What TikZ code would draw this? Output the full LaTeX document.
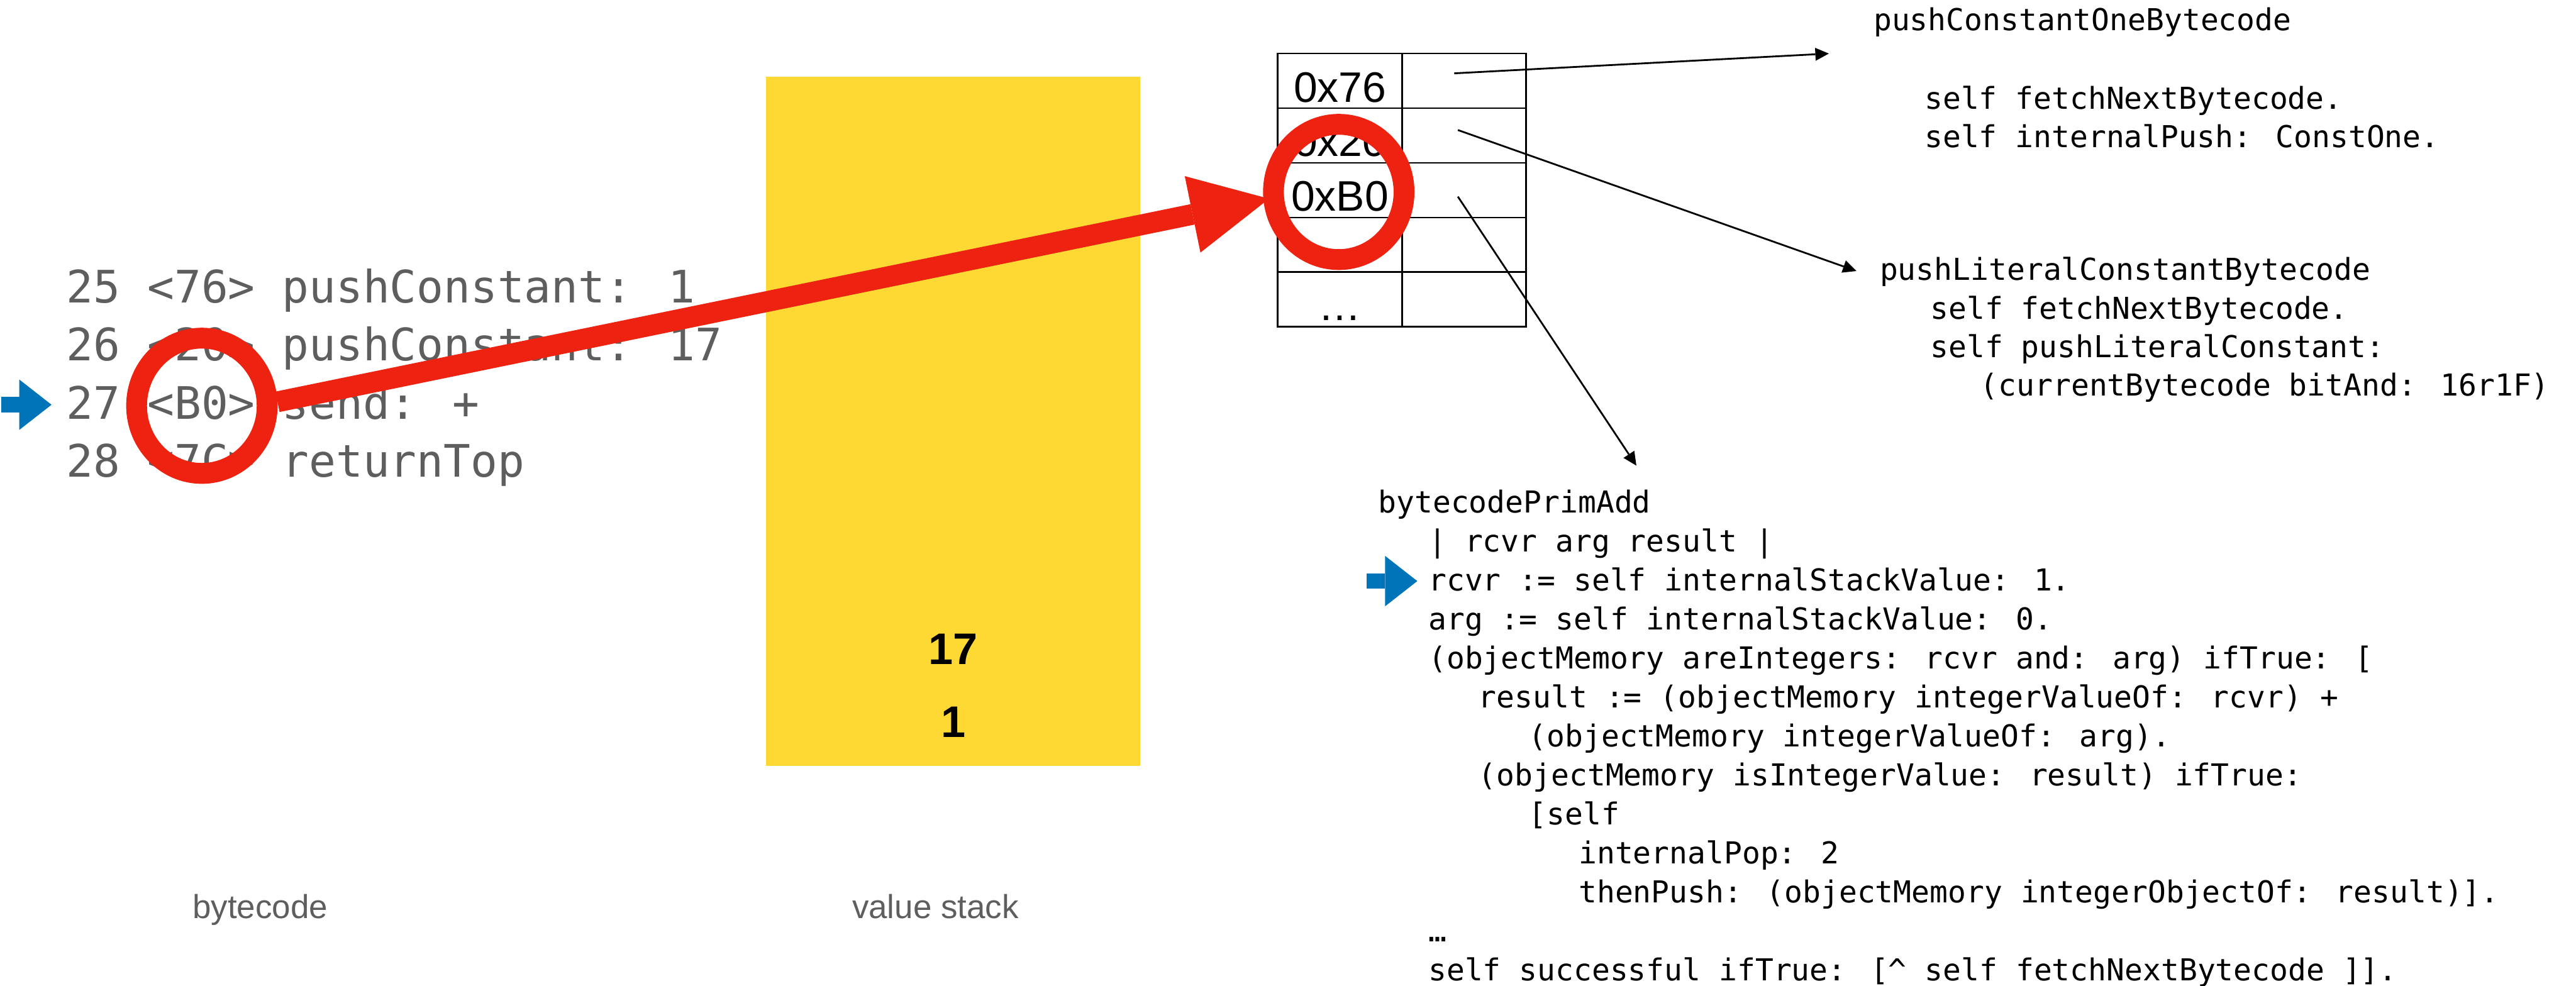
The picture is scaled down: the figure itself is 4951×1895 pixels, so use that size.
\documentclass[tikz,border=0pt]{standalone}
\usepackage{fontspec}
\setmainfont{Liberation Sans}
\newfontfamily\bcmono{DejaVu Sans Mono}
\newfontfamily\srcmono{DejaVu Sans Mono}
\usetikzlibrary{arrows.meta,shapes.geometric}

\definecolor{hotred}{RGB}{237,34,16}
\definecolor{stackyellow}{RGB}{254,217,51}
\definecolor{pcblue}{RGB}{0,116,185}
\definecolor{softgray}{RGB}{94,94,94}

\begin{document}
\begin{tikzpicture}[x=0.1pt,y=-0.1pt,
  every node/.style={inner sep=0pt,outer sep=0pt},
  bcline/.style={font=\bcmono\fontsize{8.6pt}{11pt}\selectfont,text=softgray,anchor=base west},
  srcline/.style={font=\srcmono\fontsize{5.8pt}{7.5pt}\selectfont,anchor=base west},
  caption/.style={font=\fontsize{6.4pt}{7.5pt}\selectfont,text=softgray,anchor=base},
  stackval/.style={font=\bfseries\fontsize{8.5pt}{10pt}\selectfont,anchor=base},
  cell/.style={draw,line width=0.28pt,minimum height=10.5pt,text height=8.1pt,text depth=0pt,
               font=\fontsize{8.2pt}{9pt}\selectfont},
  ring/.style={ellipse,draw=hotred,line width=4pt,minimum width=25.1pt,minimum height=26pt,
               inner sep=0pt,outer sep=2pt},
  pcmark/.style={draw=pcblue,line width=3pt,-{Triangle[length=6.2pt,width=9.7pt,line width=0pt]}},
  handler/.style={draw=black,line width=0.34pt,-{Triangle[length=2.6pt,width=2.5pt,line width=0pt]}},
  jump/.style={draw=hotred,line width=4pt,-{Triangle[length=15pt,width=15pt,line width=0pt]}}
]
\useasboundingbox (0,0) rectangle (4951,1895);

% value stack
\node[fill=stackyellow,minimum width=72pt,minimum height=132.5pt] (stack) at (1832,809.5) {};
\node[stackval] (top) at (1832,1277) {17};
\node[stackval] (bottom) at (1832,1417) {1};

% bytecode listing
\foreach \txt [count=\i from 0] in {{25 <76> pushConstant: 1},{26 <20> pushConstant: 17},
                                    {27 <B0> send: +},{28 <7C> returnTop}}
  \node[bcline] (bc\i) at (128,{582+\i*111.7}) {\txt};

% captions
\node[caption] (bclabel) at (500,1765) {bytecode};
\node[caption] (stacklabel) at (1798,1765) {value stack};

% dispatch table
\foreach \t [count=\i] in {0x76,0x20,0xB0,{},…} {
  \node[cell,minimum width=23.95pt] (k\i) at (2575.25,{155.5+(\i-1)*105}) {\t};
  \node[cell,minimum width=23.8pt] (h\i) at (2814,{155.5+(\i-1)*105}) {};
}

% handler sources
\node[srcline] (pc0) at (3601,58.6) {pushConstantOneBytecode};
\node[srcline] (pc1) at (3699,209.5) {self fetchNextBytecode.};
\node[srcline] (pc2) at (3699,284) {self internalPush: ConstOne.};

\node[srcline] (pl0) at (3613,538.5) {pushLiteralConstantBytecode};
\node[srcline] (pl1) at (3710,613) {self fetchNextBytecode.};
\node[srcline] (pl2) at (3710,687.7) {self pushLiteralConstant:};
\node[srcline] (pl3) at (3806,760.6) {(currentBytecode bitAnd: 16r1F)};

\foreach \ind/\txt [count=\i from 0] in {
    0/{bytecodePrimAdd},
    1/{| rcvr arg result |},
    1/{rcvr := self internalStackValue: 1.},
    1/{arg := self internalStackValue: 0.},
    1/{(objectMemory areIntegers: rcvr and: arg) ifTrue: [},
    2/{result := (objectMemory integerValueOf: rcvr) +},
    3/{(objectMemory integerValueOf: arg).},
    2/{(objectMemory isIntegerValue: result) ifTrue:},
    3/{[self},
    4/{internalPop: 2},
    4/{thenPush: (objectMemory integerObjectOf: result)].},
    1/{…},
    1/{self successful ifTrue: [\textasciicircum{} self fetchNextBytecode ]].}}
  \node[srcline] (pa\i) at ({2649+\ind*96.3},{986+\i*74.9}) {\txt};

% table entries point at their handlers
\coordinate (h1s) at (2795,141);
\coordinate (h2s) at (2802,250);
\coordinate (h3s) at (2802,378);
\coordinate (h1e) at (3515,103);
\coordinate (h2e) at (3568,521);
\coordinate (h3e) at (3145,895);
\draw[handler] (h1s) -- (h1e);
\draw[handler] (h2s) -- (h2e);
\draw[handler] (h3s) -- (h3e);

% current instruction markers
\draw[pcmark] (3,778) -- (99,778);
\draw[pcmark] (2627,1117) -- (2724,1117);

% current bytecode and its table slot
\node[ring] (lring) at (388,780) {};
\node[ring] (rring) at (2573,369) {};
\draw[jump,shorten >=-1.1pt] (lring.3) -- (rring.186);
\end{tikzpicture}
\end{document}
